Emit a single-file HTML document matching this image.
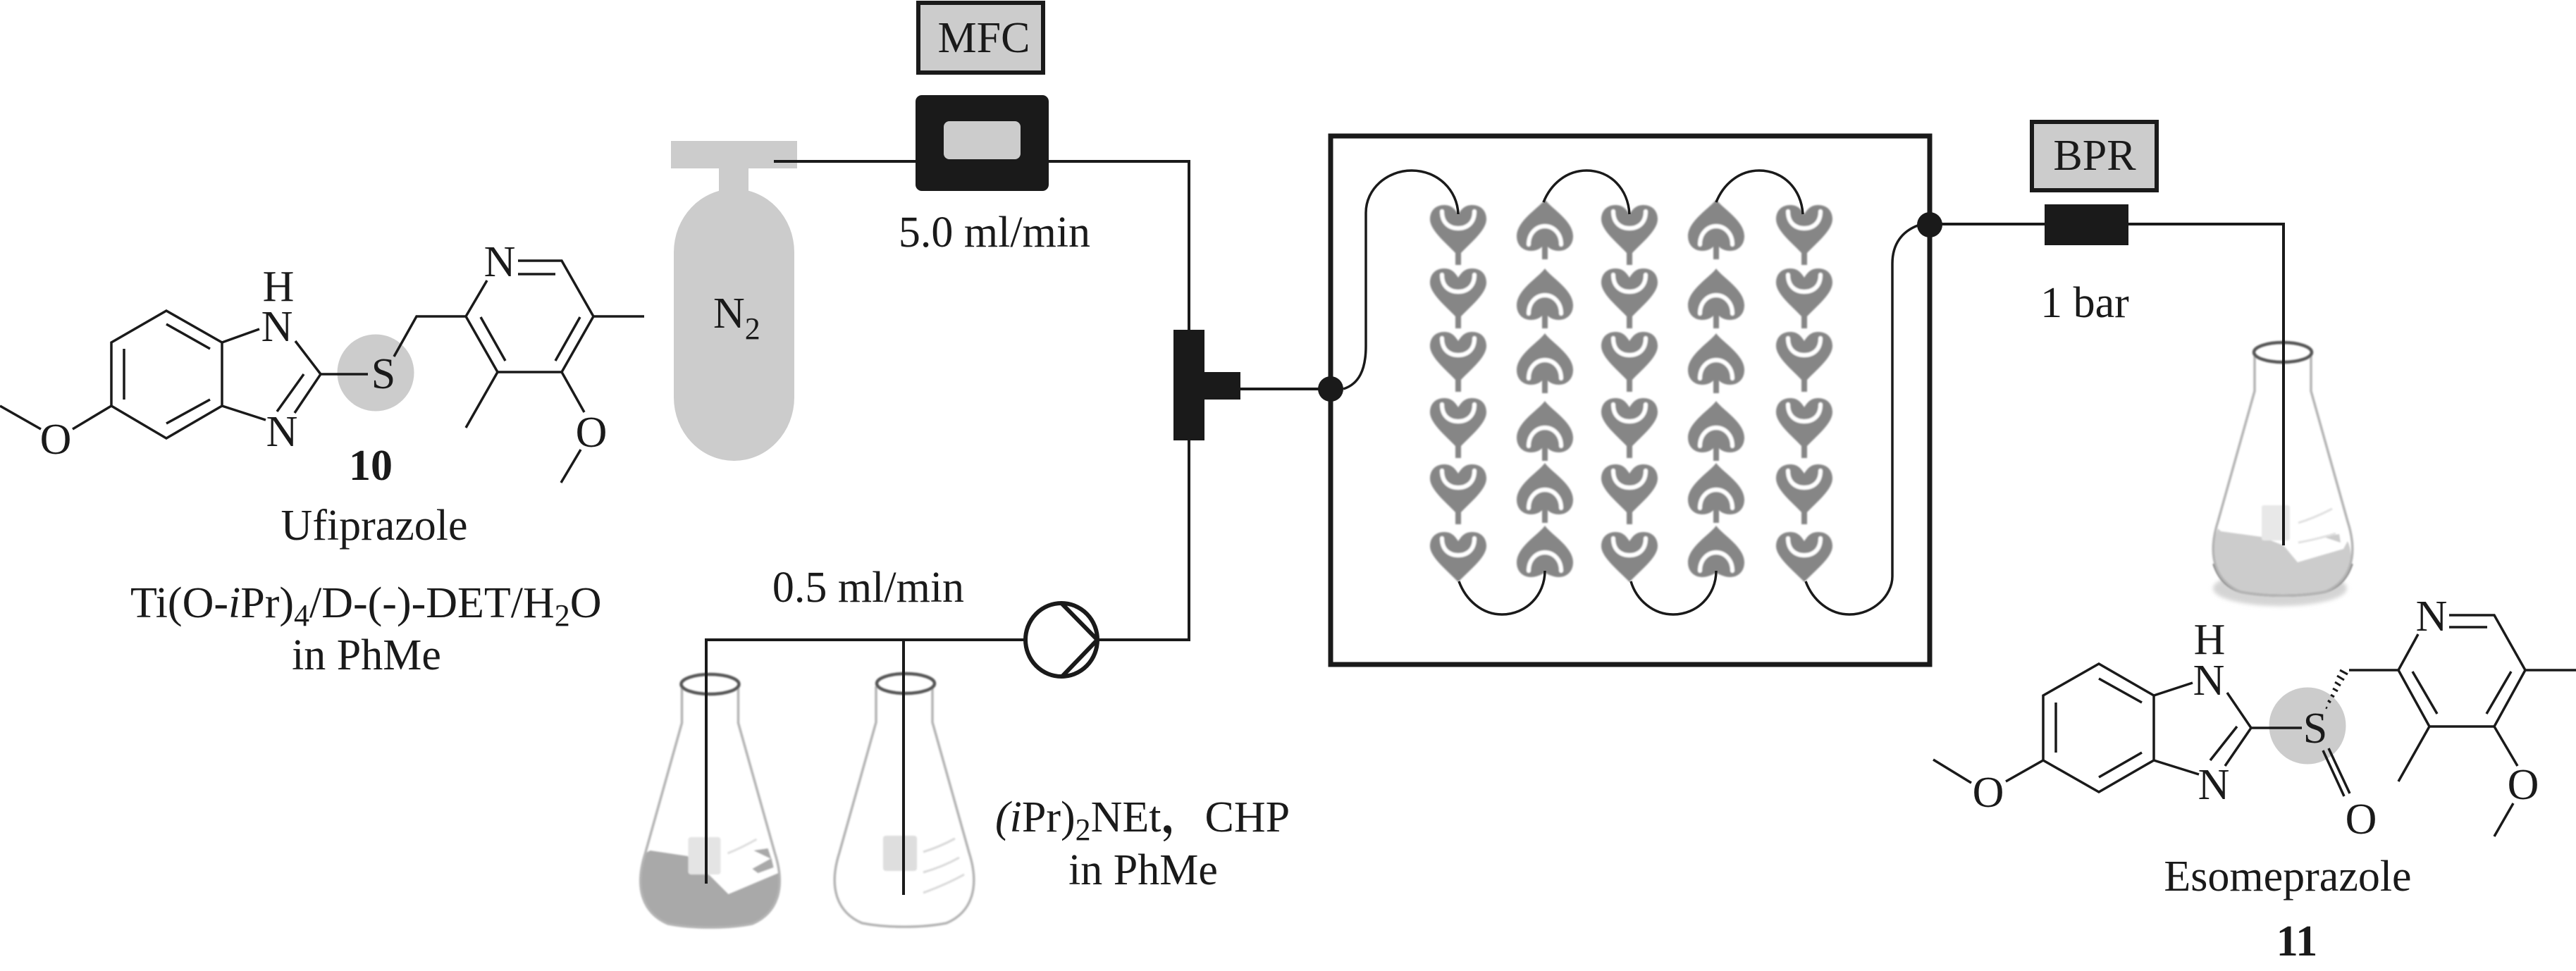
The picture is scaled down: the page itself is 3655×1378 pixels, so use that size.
<!DOCTYPE html>
<html><head><meta charset="utf-8"><style>
html,body{margin:0;padding:0;background:#fff}
svg{display:block}
text{font-family:"Liberation Serif","Noto Serif CJK SC",serif;font-size:62px;fill:#1a1a1a}
.m{text-anchor:middle}
.b{stroke:#1a1a1a;stroke-width:3.5;fill:none;stroke-linecap:butt}
.t{stroke:#1a1a1a;stroke-width:4;fill:none}
.c{stroke:#1a1a1a;stroke-width:3.5;fill:none}
.g{stroke:#b4b4b4;stroke-width:3.5;fill:none}
.r{stroke:#555;stroke-width:4.5;fill:none}
</style></head><body>
<svg width="3655" height="1378" viewBox="0 0 3655 1378" xmlns="http://www.w3.org/2000/svg">
<defs>
<filter id="bl" x="-10%" y="-10%" width="120%" height="120%"><feGaussianBlur stdDeviation="1"/></filter>
<filter id="bl2" x="-10%" y="-10%" width="120%" height="120%"><feGaussianBlur stdDeviation="3"/></filter>
<g id="d" filter="url(#bl)"><path fill="#868686" d="M0,13 C-5,5 -10,0 -20,0 C-32,0 -40,8 -40,20 C-40,36 -17,54 -4,68 L-4,85 L4,85 L4,68 C17,54 40,36 40,20 C40,8 32,0 20,0 C10,0 5,5 0,13Z"/><path fill="none" stroke="#fff" stroke-width="6" stroke-linecap="round" d="M-23,9 C-23,26 -12,33 0,33 C12,33 23,26 23,9"/></g>
<g id="dl" filter="url(#bl)"><path fill="#868686" d="M0,13 C-5,5 -10,0 -20,0 C-32,0 -40,8 -40,20 C-40,36 -15,55 0,71 C15,55 40,36 40,20 C40,8 32,0 20,0 C10,0 5,5 0,13Z"/><path fill="none" stroke="#fff" stroke-width="6" stroke-linecap="round" d="M-23,9 C-23,26 -12,33 0,33 C12,33 23,26 23,9"/></g>
<g id="u" filter="url(#bl)"><path fill="#868686" d="M0,0 C8,12 40,30 40,52 C40,66 30,73 20,73 C12,73 7,70 4,67 L4,85 L-4,85 L-4,67 C-7,70 -12,73 -20,73 C-30,73 -40,66 -40,52 C-40,30 -8,12 0,0Z"/><path fill="none" stroke="#fff" stroke-width="6" stroke-linecap="round" d="M-23,64 C-23,48 -12,38 0,38 C12,38 23,48 23,64"/></g>
<g id="ul" filter="url(#bl)"><path fill="#868686" d="M0,0 C8,12 40,30 40,52 C40,66 30,73 20,73 C12,73 7,70 0,67 C-7,70 -12,73 -20,73 C-30,73 -40,66 -40,52 C-40,30 -8,12 0,0Z"/><path fill="none" stroke="#fff" stroke-width="6" stroke-linecap="round" d="M-23,64 C-23,48 -12,38 0,38 C12,38 23,48 23,64"/></g>
<path id="fo" d="M-40,4 L-40,55 L-92,240 C-108,290 -95,325 -60,340 C-25,347 25,347 60,340 C95,325 108,290 92,240 L40,55 L40,4"/>
</defs>
<rect width="3655" height="1378" fill="#fff"/>

<!-- Compound 10 -->
<circle cx="533" cy="529" r="54.5" fill="#ccc"/>
<g class="b">
<path d="M236,441 L315,486 L315,576 L236,622 L158,576 L158,486 Z"/>
<path d="M236,460 L298,495 M176,495 L176,567 M236,601 L298,567"/>
<path d="M315,486 L368,467 M315,576 L377,596 M419,484 L455,531 L418,586 M431,531 L393,584 M455,531 L522,531"/>
<path d="M559,506 L591,449 L661,449 L691,398 M735,370 L797,370 L842,449 L797,528 L706,528 L661,449 M735,389 L788,389"/>
<path d="M682,450 L717,512 M823,450 L788,512 M842,449 L914,449 M706,528 L661,607 M797,528 L829,585 M824,638 L796,685 M158,576 L103,609 M58,609 L0,576"/>
</g>
<text class="m" x="395" y="427">H</text>
<text class="m" x="393" y="484">N</text>
<text class="m" x="400" y="633">N</text>
<text class="m" x="544" y="551">S</text>
<text class="m" x="709" y="392">N</text>
<text class="m" x="839" y="634">O</text>
<text class="m" x="79" y="644">O</text>
<text class="m" x="526" y="681" style="font-weight:700">10</text>
<text class="m" x="531" y="766">Ufiprazole</text>
<text x="185" y="876">Ti(O-<tspan font-style="italic">i</tspan>Pr)<tspan dy="12" font-size="44">4</tspan><tspan dy="-12">/D-(-)-DET/H</tspan><tspan dy="12" font-size="44">2</tspan><tspan dy="-12">O</tspan></text>
<text class="m" x="520" y="950">in PhMe</text>

<!-- N2 cylinder -->
<rect x="956" y="268" width="171" height="386" rx="85.5" ry="90" fill="#ccc"/>
<rect x="1020" y="235" width="42" height="40" fill="#ccc"/>
<rect x="952" y="200" width="179" height="39" fill="#ccc"/>
<text x="1012" y="465">N<tspan dy="16" font-size="44">2</tspan></text>

<!-- MFC -->
<rect x="1303" y="4" width="177" height="99" fill="#ccc" stroke="#1a1a1a" stroke-width="6"/>
<text class="m" x="1396" y="74">MFC</text>
<rect x="1299" y="135" width="189" height="136" rx="9" fill="#1a1a1a"/>
<rect x="1339" y="172" width="109" height="54" rx="8" fill="#ccc"/>
<text class="m" x="1411" y="350">5.0 ml/min</text>

<!-- Tubing -->
<g class="t">
<path d="M1098,229 L1299,229 M1488,229 L1687,229 L1687,468 M1687,625 L1687,908 L1558,908 M1453,908 L1002,908 L1002,1254 M1282,908 L1282,1270 M1760,552 L1888,552"/>
<path d="M2738,318 L2901,318 M3020,318 L3240,318 L3240,774"/>
</g>
<rect x="1665" y="468" width="44" height="157" fill="#1a1a1a"/>
<rect x="1705" y="528" width="55" height="39" fill="#1a1a1a"/>

<!-- Pump -->
<ellipse cx="1506" cy="908" rx="51" ry="52" fill="#fff" stroke="#1a1a1a" stroke-width="6"/>
<path d="M1506,856 L1557,908 L1506,961" fill="none" stroke="#1a1a1a" stroke-width="6"/>
<text class="m" x="1232" y="854">0.5 ml/min</text>

<!-- Flask 1 -->
<g transform="translate(1007.5 971)" filter="url(#bl)">
<path fill="#a9a9a9" d="M-85,236 L-32,244 L0,272 L26,298 L97,268 C103,300 92,328 60,340 C25,347 -25,347 -60,340 C-95,325 -108,290 -92,240Z"/>
<rect x="-31" y="217" width="46" height="53" rx="4" fill="#e4e4e4"/>
<path fill="#a9a9a9" d="M62,236 L82,233 L87,248Z M60,262 L87,247 L90,260 L68,268Z"/>
<path d="M25,240 Q45,232 66,220" fill="none" stroke="#ddd" stroke-width="3"/>
<use href="#fo" class="g"/>
<ellipse cx="0" cy="0" rx="41" ry="14" class="r"/>
</g>
<line x1="1002" y1="908" x2="1002" y2="1254" class="t"/>

<!-- Flask 2 -->
<g transform="translate(1283 970)" filter="url(#bl)">
<rect x="-30" y="216" width="48" height="50" rx="4" fill="#dedede"/>
<path d="M27,239 Q50,232 72,220 M27,268 Q55,260 78,247 M27,297 Q60,285 85,271" fill="none" stroke="#d8d8d8" stroke-width="3"/>
<use href="#fo" class="g"/>
<ellipse cx="2" cy="0" rx="41" ry="14" class="r"/>
</g>
<line x1="1282" y1="908" x2="1282" y2="1270" class="t"/>

<text x="1412" y="1180"><tspan font-style="italic">(i</tspan>Pr)<tspan dy="12" font-size="44">2</tspan><tspan dy="-12">NEt<tspan style="font-weight:700">，</tspan>CHP</tspan></text>
<text class="m" x="1622" y="1255">in PhMe</text>

<!-- Reactor -->
<rect x="1888" y="193" width="850" height="750" fill="#fff" stroke="#1a1a1a" stroke-width="7"/>

<use href="#d" x="2069" y="291"/><use href="#d" x="2069" y="381"/><use href="#d" x="2069" y="471"/><use href="#d" x="2069" y="565"/><use href="#d" x="2069" y="659"/><use href="#dl" x="2069" y="755"/>
<use href="#u" x="2192" y="283"/><use href="#u" x="2192" y="381"/><use href="#u" x="2192" y="473"/><use href="#u" x="2192" y="569"/><use href="#u" x="2192" y="657"/><use href="#ul" x="2192" y="746"/>
<use href="#d" x="2312" y="291"/><use href="#d" x="2312" y="381"/><use href="#d" x="2312" y="471"/><use href="#d" x="2312" y="565"/><use href="#d" x="2312" y="659"/><use href="#dl" x="2312" y="755"/>
<use href="#u" x="2435" y="283"/><use href="#u" x="2435" y="381"/><use href="#u" x="2435" y="473"/><use href="#u" x="2435" y="569"/><use href="#u" x="2435" y="657"/><use href="#ul" x="2435" y="746"/>
<use href="#d" x="2560" y="291"/><use href="#d" x="2560" y="381"/><use href="#d" x="2560" y="471"/><use href="#d" x="2560" y="565"/><use href="#d" x="2560" y="659"/><use href="#dl" x="2560" y="755"/>

<g class="c">
<path d="M1906,552 C1928,545 1938,525 1938,491 L1938,302 C1938,268 1968,242 2003,242 C2040,242 2068,270 2069,304"/>
<path d="M2190,287 C2200,262 2222,242 2251,242 C2285,242 2310,268 2312,304"/>
<path d="M2435,287 C2445,262 2467,242 2496,242 C2530,242 2556,268 2558,304"/>
<path d="M2070,825 C2080,852 2103,872 2131,872 C2165,872 2192,845 2192,810"/>
<path d="M2314,825 C2322,852 2346,872 2374,872 C2408,872 2435,845 2435,810"/>
<path d="M2562,825 C2572,852 2596,872 2624,872 C2658,872 2685,845 2685,818 L2685,374 C2685,345 2700,328 2721,320"/>
</g>
<circle cx="1888" cy="552" r="18" fill="#1a1a1a"/>
<circle cx="2738" cy="319" r="18" fill="#1a1a1a"/>

<!-- BPR -->
<rect x="2883" y="173" width="177" height="97" fill="#ccc" stroke="#1a1a1a" stroke-width="6"/>
<text class="m" x="2972" y="241">BPR</text>
<rect x="2901" y="290" width="119" height="58" fill="#1a1a1a"/>
<text class="m" x="2958" y="450">1 bar</text>

<!-- Flask 3 -->
<g transform="translate(3239 500)" filter="url(#bl)">
<ellipse cx="-4" cy="335" rx="95" ry="25" fill="#d4d4d4" filter="url(#bl2)"/>
<path fill="#ccc" d="M-88,254 L-30,262 L1,274 L21,298 L86,279 L92,268 C104,296 92,325 60,338 C25,345 -25,345 -60,338 C-95,325 -108,290 -92,250Z"/>
<rect x="-30" y="217" width="40" height="50" rx="3" fill="#e8e8e8"/>
<path fill="#ccc" d="M58,262 L80,258 L82,270Z"/>
<path d="M22,242 Q45,235 70,222 M22,270 Q50,265 75,257" fill="none" stroke="#e0e0e0" stroke-width="3"/>
<path d="M-98,300 C-90,325 -75,335 -60,340 C-25,347 25,347 60,340 C75,335 90,325 98,300" fill="none" stroke="#777" stroke-width="3.5"/>
<use href="#fo" class="g"/>
<ellipse cx="0" cy="0" rx="41" ry="14" class="r"/>
</g>
<line x1="3240" y1="318" x2="3240" y2="774" class="t"/>

<!-- Compound 11 -->
<circle cx="3274" cy="1030" r="54.5" fill="#ccc"/>
<g class="b">
<path d="M2978,942 L3056,987 L3056,1079 L2978,1124 L2899,1079 L2899,987 Z"/>
<path d="M2978,963 L3039,997 M2917,997 L2917,1068 M2978,1103 L3039,1068"/>
<path d="M3056,987 L3111,969 M3056,1079 L3120,1099 M3160,983 L3194,1033 L3157,1087 M3174,1031 L3136,1079 M3194,1033 L3266,1033"/>
<path d="M3296,1065 L3326,1130 M3304,1062 L3334,1126"/>
<path d="M3333,951 L3403,951 L3431,900 M3475,873 L3539,873 L3583,951 L3539,1031 L3447,1031 L3403,951 M3475,890 L3529,890"/>
<path d="M3423,953 L3458,1013 M3563,953 L3528,1013 M3583,951 L3655,951 M3447,1031 L3403,1109 M3539,1031 L3572,1087 M3566,1140 L3539,1187 M2899,1079 L2846,1109 M2797,1111 L2743,1078"/>
</g>
<g stroke="#1a1a1a" stroke-width="3">
<path d="M3302,1005 L3300,1004 M3307,997 L3303,994 M3312,989 L3307,986 M3317,981 L3310,977 M3321,973 L3313,968 M3326,965 L3316,959 M3331,957 L3320,951"/>
</g>
<text class="m" x="3135" y="928">H</text>
<text class="m" x="3134" y="986">N</text>
<text class="m" x="3141" y="1134">N</text>
<text class="m" x="3285" y="1054">S</text>
<text class="m" x="3350" y="1183">O</text>
<text class="m" x="3450" y="895">N</text>
<text class="m" x="3580" y="1134">O</text>
<text class="m" x="2821" y="1145">O</text>
<text class="m" x="3246" y="1264">Esomeprazole</text>
<text class="m" x="3259" y="1356" style="font-weight:700">11</text>
</svg>
</body></html>
